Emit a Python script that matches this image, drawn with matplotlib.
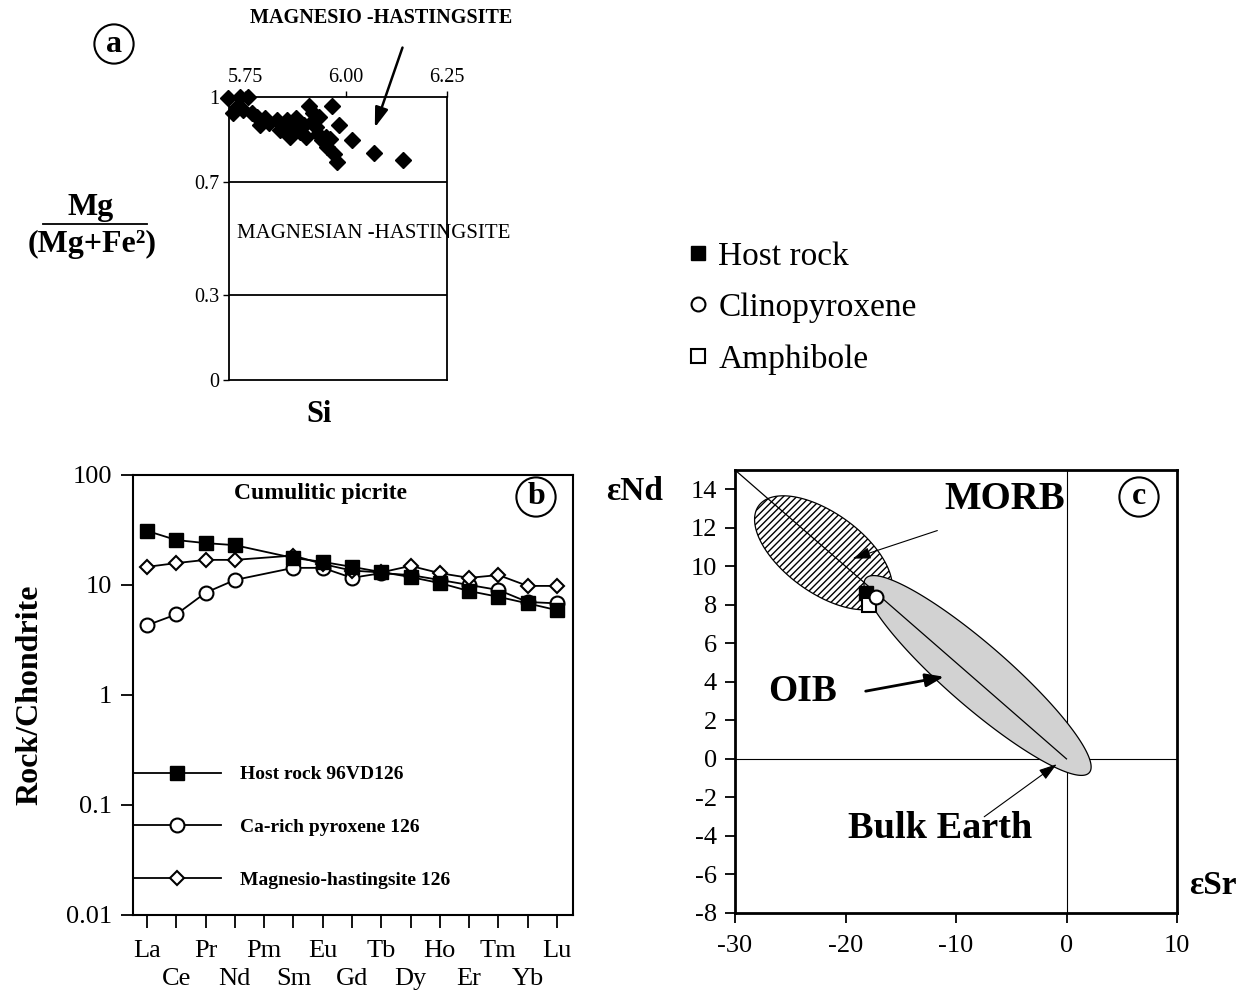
import numpy as np
import matplotlib
matplotlib.use("Agg")
import matplotlib.pyplot as plt
from matplotlib.lines import Line2D

plt.rcParams['font.family'] = ['Liberation Serif', 'DejaVu Serif']
plt.rcParams['axes.unicode_minus'] = False

# panel a: amphibole compositions
si_apfu = [6.015, 6.069, 6.142, 5.978, 5.983, 5.966, 5.909,
           5.708, 5.738, 5.757, 5.720, 5.745, 5.767, 5.787, 5.810, 5.836,
           5.860, 5.885, 5.900, 5.926, 5.940, 5.953, 5.970, 5.828, 5.853,
           5.877, 5.917, 5.934, 5.730, 5.780, 5.800, 5.845, 5.870, 5.895,
           5.915, 5.930, 5.950, 5.960]
mg_ratio = [0.848, 0.802, 0.777, 0.770, 0.900, 0.970, 0.970,
            0.996, 1.000, 1.000, 0.943, 0.954, 0.943, 0.900, 0.907, 0.883,
            0.860, 0.877, 0.860, 0.894, 0.848, 0.823, 0.800, 0.919, 0.919,
            0.925, 0.943, 0.930, 0.965, 0.930, 0.925, 0.900, 0.895, 0.900,
            0.910, 0.870, 0.860, 0.850]

# panel b: REE patterns normalised to chondrite
ree = ['La', 'Ce', 'Pr', 'Nd', 'Pm', 'Sm', 'Eu', 'Gd', 'Tb', 'Dy',
       'Ho', 'Er', 'Tm', 'Yb', 'Lu']
ree_measured = ['La', 'Ce', 'Pr', 'Nd', 'Sm', 'Eu', 'Gd', 'Tb', 'Dy',
                'Ho', 'Er', 'Tm', 'Yb', 'Lu']
host_rock = [31, 25.6, 24, 23, 17.6, 16.2, 14.6, 13.1, 11.8, 10.4, 8.8, 7.8, 6.8, 5.9]
ca_pyroxene = [4.3, 5.4, 8.5, 11.1, 14.3, 14.3, 11.6, 12.8, 12.3, 11.1, 10.0, 9.0, 7.0, 6.8]
mg_hastingsite = [14.6, 15.8, 16.9, 16.9, 18.5, 15.5, 13.5, 13.0, 14.9, 12.8, 11.6, 12.3, 9.8, 9.8]

# panel c: Sr-Nd isotopes
esr_host, end_host = -18.1, 8.6
esr_cpx, end_cpx = -17.2, 8.4
esr_amph, end_amph = -17.9, 8.0
mantle_sr = [-30, 0]
mantle_nd = [15, 0]
# fields: centre (eSr, eNd), semi-axes in eSr units, tilt as seen on the page
morb_field = (-22.0, 10.7, 7.24, 3.6, 36)
oib_field = (-8.05, 4.33, 13.4, 2.8, 41)


def ellipse_xy(field, k):
    cx, cy, a, b, ang = field
    t = np.linspace(0, 2 * np.pi, 300)
    th = np.radians(ang)
    u, v = a * np.cos(t), b * np.sin(t)
    x = cx + u * np.cos(th) - v * np.sin(th)
    y = cy - (u * np.sin(th) + v * np.cos(th)) / k
    return x, y


def circled(x, y, s):
    fig.text(x, y, s, fontsize=23, fontweight='bold', ha='center', va='center',
             bbox=dict(boxstyle='circle,pad=0.16', fc='none', ec='k', lw=1.5))


fig = plt.figure(figsize=(12.5, 9.94), dpi=100)

# ---------------- panel a
ax_a = fig.add_axes([0.1832, 0.6177, 0.1744, 0.2847])
ax_a.plot(si_apfu, mg_ratio, 'D', color='k', ms=8.5, clip_on=False, zorder=5)
ax_a.set_xlim(5.71, 6.25)
ax_a.set_ylim(0, 1)
ax_a.xaxis.tick_top()
ax_a.set_xticks([5.75, 6.0, 6.25])
ax_a.set_xticklabels(['5.75', '6.00', '6.25'])
ax_a.set_yticks([0, 0.3, 0.7, 1])
ax_a.set_yticklabels(['0', '0.3', '0.7', '1'])
ax_a.tick_params(labelsize=14.5, length=4, width=1, pad=3)
for y in (0.3, 0.7):
    ax_a.axhline(y, color='k', lw=1.3)
for s in ax_a.spines.values():
    s.set_linewidth(1.3)
ax_a.text(5.730, 0.516, 'MAGNESIAN -HASTINGSITE', fontsize=15, ha='left',
          va='center', clip_on=False)
ax_a.annotate('MAGNESIO -HASTINGSITE', xy=(6.069, 0.883), xytext=(6.088, 1.279),
              ha='center', va='center', fontsize=14.5, fontweight='bold',
              annotation_clip=False)
ax_a.annotate('', xy=(6.069, 0.883), xytext=(6.142, 1.184), annotation_clip=False,
              arrowprops=dict(arrowstyle='-|>,head_length=1.2,head_width=0.4',
                              color='k', lw=1.8))

fig.text(91 / 1250, 1 - 208 / 994, 'Mg', fontsize=23, fontweight='bold',
         ha='center', va='center')
fig.add_artist(Line2D([43 / 1250, 147 / 1250], [1 - 224 / 994] * 2, color='k', lw=1.3))
fig.text(92 / 1250, 1 - 244 / 994, '(Mg+Fe²)', fontsize=23, fontweight='bold',
         ha='center', va='center')
fig.text(319 / 1250, 1 - 415 / 994, 'Si', fontsize=22, fontweight='bold',
         ha='center', va='center')
circled(114 / 1250, 1 - 44 / 994, 'a')

handles = [Line2D([], [], marker='s', ls='none', mfc='k', mec='k', ms=10),
           Line2D([], [], marker='o', ls='none', mfc='w', mec='k', mew=1.5, ms=10),
           Line2D([], [], marker='s', ls='none', mfc='w', mec='k', mew=1.5, ms=10)]
fig.legend(handles, ['Host rock', 'Clinopyroxene', 'Amphibole'], loc='center left',
           bbox_to_anchor=(655 / 1250, 1 - 308 / 994), frameon=False, fontsize=24,
           handlelength=0.8, handletextpad=0.2, labelspacing=0.62)

# ---------------- panel b
ax_b = fig.add_axes([0.1064, 0.0795, 0.352, 0.4427])
xb = [ree.index(e) for e in ree_measured]
ax_b.plot(xb, ca_pyroxene, '-o', color='k', mfc='w', mec='k', mew=1.5, ms=10,
          lw=1.3, label='Ca-rich pyroxene 126')
ax_b.plot(xb, mg_hastingsite, '-D', color='k', mfc='w', mec='k', mew=1.5, ms=7,
          lw=1.3, label='Magnesio-hastingsite 126')
ax_b.plot(xb, host_rock, '-s', color='k', mfc='k', mec='k', ms=10, lw=1.3,
          label='Host rock 96VD126')
ax_b.set_yscale('log')
ax_b.set_ylim(0.01, 100)
ax_b.set_xlim(-0.48, 14.55)
ax_b.set_yticks([0.01, 0.1, 1, 10, 100])
ax_b.set_yticklabels(['0.01', '0.1', '1', '10', '100'])
ax_b.yaxis.set_minor_locator(matplotlib.ticker.NullLocator())
# two staggered rows of element labels
ax_b.set_xticks(range(0, len(ree), 2))
ax_b.set_xticklabels(ree[0::2])
ax_b.set_xticks(range(1, len(ree), 2), minor=True)
ax_b.set_xticklabels(ree[1::2], minor=True)
ax_b.tick_params(labelsize=19, length=9, width=1.3, pad=6)
ax_b.tick_params(axis='x', which='major', pad=9)
ax_b.tick_params(axis='x', which='minor', labelsize=19, length=9, width=1.3, pad=29)
for s in ax_b.spines.values():
    s.set_linewidth(1.5)
fig.text(30 / 1250, 1 - 695 / 994, 'Rock/Chondrite', fontsize=23, fontweight='bold',
         ha='center', va='center', rotation=90)
h, l = ax_b.get_legend_handles_labels()
ax_b.legend([h[2], h[0], h[1]], [l[2], l[0], l[1]], loc='lower left',
            bbox_to_anchor=(0.0, 0.06), frameon=False, borderaxespad=0,
            borderpad=0, handlelength=4.5, handletextpad=1.0, labelspacing=1.8,
            prop=dict(size=14, weight='bold'))
fig.text(320 / 1250, 1 - 493 / 994, 'Cumulitic picrite', fontsize=17,
         fontweight='bold', ha='center', va='center')
circled(536 / 1250, 1 - 497 / 994, 'b')

# ---------------- panel c
ax_c = fig.add_axes([0.588, 0.0815, 0.3536, 0.4457])
ax_c.set_xlim(-30, 10)
ax_c.set_ylim(-8, 15)
bb = ax_c.get_position()
k = (bb.height * 994 / 23) / (bb.width * 1250 / 40)
ax_c.axhline(0, color='k', lw=0.8)
ax_c.axvline(0, color='k', lw=0.8)
mx, my = ellipse_xy(morb_field, k)
ax_c.fill(mx, my, fc='w', ec='k', lw=0.9, hatch='/////', zorder=2)
ox, oy = ellipse_xy(oib_field, k)
ax_c.fill(ox, oy, fc='#d2d2d2', ec='k', lw=0.9, zorder=3)
ax_c.plot(mantle_sr, mantle_nd, color='k', lw=0.9, zorder=4)
ax_c.plot(esr_host, end_host, 's', color='k', ms=10, zorder=6)
ax_c.plot(esr_amph, end_amph, 's', mfc='w', mec='k', mew=1.5, ms=10, zorder=7)
ax_c.plot(esr_cpx, end_cpx, 'o', mfc='w', mec='k', mew=1.5, ms=10, zorder=8)
ax_c.set_xticks([-30, -20, -10, 0, 10])
ax_c.set_yticks(range(-8, 15, 2))
ax_c.tick_params(labelsize=19, length=7, width=1.3, pad=6)
ax_c.tick_params(axis='x', pad=9)
for s in ax_c.spines.values():
    s.set_linewidth(2)

ax_c.text(-5.6, 13.45, 'MORB', fontsize=28, fontweight='bold', ha='center', va='center')
ax_c.annotate('', xy=(-19.6, 10.35), xytext=(-11.45, 11.9),
              arrowprops=dict(arrowstyle='-|>,head_length=1.1,head_width=0.35',
                              color='k', lw=0.8), zorder=9)
ax_c.text(-23.9, 3.48, 'OIB', fontsize=27, fontweight='bold', ha='center', va='center')
ax_c.annotate('', xy=(-10.84, 4.29), xytext=(-18.42, 3.49),
              arrowprops=dict(arrowstyle='-|>,head_length=1.1,head_width=0.4',
                              color='k', lw=2), zorder=9)
ax_c.text(-11.45, -3.6, 'Bulk Earth', fontsize=27.5, fontweight='bold', ha='center',
          va='center')
ax_c.annotate('', xy=(-0.68, -0.19), xytext=(-7.65, -3.09),
              arrowprops=dict(arrowstyle='-|>,head_length=1.1,head_width=0.35',
                              color='k', lw=0.8), zorder=9)
fig.text(635 / 1250, 1 - 492 / 994, 'εNd', fontsize=24, fontweight='bold',
         ha='center', va='center')
fig.text(1213 / 1250, 1 - 885 / 994, 'εSr', fontsize=24, fontweight='bold',
         ha='center', va='center')
circled(1139 / 1250, 1 - 497 / 994, 'c')

fig.savefig('out.png', dpi=100)
